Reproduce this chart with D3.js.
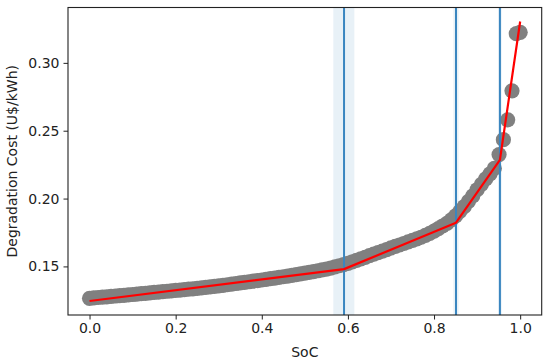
<!DOCTYPE html>
<html>
<head>
<meta charset="utf-8">
<script src="https://cdn.jsdelivr.net/npm/d3@7"></script>
<style>
  html, body { margin: 0; padding: 0; background: #fff; }
  svg { display: block; font-family: "DejaVu Sans", sans-serif; }
</style>
</head>
<body>
<svg id="chart" width="550" height="362"></svg>
<script>
// ---- data ----
const socValues = [
  0.00,0.01,0.02,0.03,0.04,0.05,0.06,0.07,0.08,0.09,
  0.10,0.11,0.12,0.13,0.14,0.15,0.16,0.17,0.18,0.19,
  0.20,0.21,0.22,0.23,0.24,0.25,0.26,0.27,0.28,0.29,
  0.30,0.31,0.32,0.33,0.34,0.35,0.36,0.37,0.38,0.39,
  0.40,0.41,0.42,0.43,0.44,0.45,0.46,0.47,0.48,0.49,
  0.50,0.51,0.52,0.53,0.54,0.55,0.56,0.57,0.58,0.59,
  0.60,0.61,0.62,0.63,0.64,0.65,0.66,0.67,0.68,0.69,
  0.70,0.71,0.72,0.73,0.74,0.75,0.76,0.77,0.78,0.79,
  0.80,0.81,0.82,0.83,0.84,0.85,0.86,0.87,0.88,0.89,
  0.90,0.91,0.92,0.93,0.94,0.951,0.961,0.971,0.981,0.991,1.000
];
const costValues = [
  0.1265,0.1268,0.1271,0.1273,0.1276,0.1279,0.1282,0.1285,0.1287,0.1290,
  0.1293,0.1296,0.1299,0.1302,0.1305,0.1308,0.1311,0.1314,0.1317,0.1320,
  0.1323,0.1326,0.1329,0.1332,0.1335,0.1338,0.1342,0.1345,0.1349,0.1353,
  0.1357,0.1361,0.1365,0.1369,0.1374,0.1378,0.1382,0.1387,0.1391,0.1396,
  0.1400,0.1405,0.1410,0.1414,0.1419,0.1424,0.1429,0.1434,0.1439,0.1445,
  0.1450,0.1456,0.1462,0.1468,0.1474,0.1480,0.1488,0.1497,0.1505,0.1513,
  0.1522,0.1533,0.1544,0.1556,0.1567,0.1579,0.1590,0.1602,0.1613,0.1624,
  0.1636,0.1647,0.1658,0.1669,0.1681,0.1692,0.1703,0.1715,0.1729,0.1744,
  0.1760,0.1779,0.1798,0.1818,0.1843,0.1872,0.1905,0.1940,0.1980,0.2020,
  0.2065,0.2105,0.2145,0.2182,0.2222,0.2324,0.2434,0.2580,0.2794,0.3215,0.3225
];
// piecewise linear fit (red)
const fitSoc  = [0.000, 0.591, 0.851, 0.953, 1.000];
const fitCost = [0.1245, 0.1480, 0.1822, 0.2285, 0.3305];
// breakpoints (blue vertical lines) and shaded bands
const breakpoints = [0.591, 0.851, 0.953];
const bandLow  = [0.566, 0.845, 0.949];
const bandHigh = [0.615, 0.857, 0.957];
const xTicks = [0.0, 0.2, 0.4, 0.6, 0.8, 1.0];
const yTicks = [0.15, 0.20, 0.25, 0.30];
const xLabel = "SoC";
const yLabel = "Degradation Cost (U$/kWh)";

// ---- layout ----
const W = 550, H = 362;
const margin = {left: 68, right: 8.3, top: 7.5, bottom: 47};
const svg = d3.select("#chart");

const allX = socValues.concat(fitSoc);
const allY = costValues.concat(fitCost);
const [x0, x1] = d3.extent(allX);
const [y0, y1] = d3.extent(allY);
const px = (x1 - x0) * 0.05, py = (y1 - y0) * 0.05;

const x = d3.scaleLinear().domain([x0 - px, x1 + px]).range([margin.left, W - margin.right]);
const y = d3.scaleLinear().domain([y0 - py, y1 + py]).range([H - margin.bottom, margin.top]);

const clipId = "plotclip";
svg.append("clipPath").attr("id", clipId).append("rect")
  .attr("x", margin.left).attr("y", margin.top)
  .attr("width", W - margin.left - margin.right)
  .attr("height", H - margin.top - margin.bottom);

const plot = svg.append("g").attr("clip-path", `url(#${clipId})`);

// shaded bands
plot.selectAll("rect.band").data(bandLow.map((lo, i) => [lo, bandHigh[i]]))
  .enter().append("rect").attr("class", "band")
  .attr("x", d => x(d[0])).attr("width", d => x(d[1]) - x(d[0]))
  .attr("y", margin.top).attr("height", H - margin.top - margin.bottom)
  .attr("fill", "#1f77b4").attr("fill-opacity", 0.1);

// scatter
plot.selectAll("circle.pt").data(socValues.map((s, i) => [s, costValues[i]]))
  .enter().append("circle").attr("class", "pt")
  .attr("cx", d => x(d[0])).attr("cy", d => y(d[1]))
  .attr("r", 7.6).attr("fill", "#808080");

// vertical lines
plot.selectAll("line.bp").data(breakpoints).enter().append("line")
  .attr("class", "bp")
  .attr("x1", d => x(d)).attr("x2", d => x(d))
  .attr("y1", margin.top).attr("y2", H - margin.bottom)
  .attr("stroke", "#3a86c0").attr("stroke-width", 2);

// red fit line
const line = d3.line().x(d => x(d[0])).y(d => y(d[1]));
plot.append("path").datum(fitSoc.map((s, i) => [s, fitCost[i]]))
  .attr("d", line).attr("fill", "none")
  .attr("stroke", "#ff0000").attr("stroke-width", 2.2)
  .attr("stroke-linejoin", "round");

// axes
const xAxis = d3.axisBottom(x).tickValues(xTicks).tickFormat(d3.format(".1f"))
  .tickSizeOuter(0).tickSizeInner(4.5).tickPadding(4);
const yAxis = d3.axisLeft(y).tickValues(yTicks).tickFormat(d3.format(".2f"))
  .tickSizeOuter(0).tickSizeInner(4.5).tickPadding(4);

const gx = svg.append("g").attr("transform", `translate(0,${H - margin.bottom})`).call(xAxis);
const gy = svg.append("g").attr("transform", `translate(${margin.left},0)`).call(yAxis);
[gx, gy].forEach(g => {
  g.select(".domain").remove();
  g.selectAll("text").attr("font-size", 14).attr("fill", "#222")
    .attr("font-family", "DejaVu Sans, sans-serif");
  g.selectAll("line").attr("stroke", "#222").attr("stroke-width", 1);
});

// spines
svg.append("rect")
  .attr("x", margin.left).attr("y", margin.top)
  .attr("width", W - margin.left - margin.right)
  .attr("height", H - margin.top - margin.bottom)
  .attr("fill", "none").attr("stroke", "#222").attr("stroke-width", 1.1);

// labels
svg.append("text").attr("x", (margin.left + W - margin.right) / 2).attr("y", 357)
  .attr("text-anchor", "middle").attr("font-size", 14).attr("fill", "#222").text(xLabel);
svg.append("text")
  .attr("transform", `translate(17,${(margin.top + H - margin.bottom) / 2}) rotate(-90)`)
  .attr("text-anchor", "middle").attr("font-size", 14).attr("fill", "#222").text(yLabel);
</script>
</body>
</html>
